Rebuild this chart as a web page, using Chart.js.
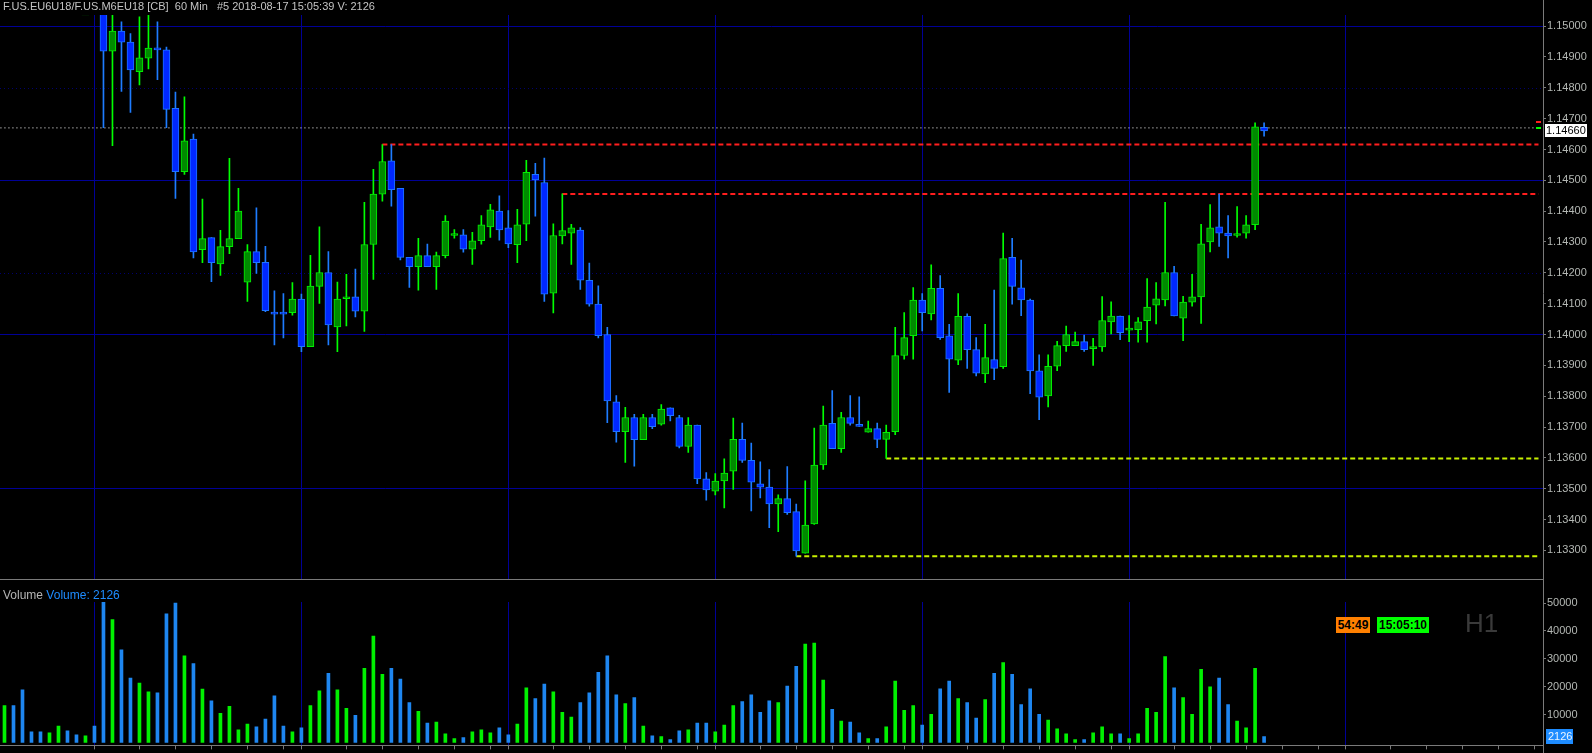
<!DOCTYPE html>
<html>
<head>
<meta charset="utf-8">
<script src="https://cdn.jsdelivr.net/npm/chart.js@4.4.0/dist/chart.umd.min.js"></script>
<style>
  html, body { margin: 0; padding: 0; background: #000; }
  body { width: 1592px; height: 753px; position: relative; overflow: hidden; font-family: 'Liberation Sans', Arial, sans-serif; }
  canvas { position: absolute; left: 0; }
  #priceCanvas { top: 0; }
  #volCanvas { top: 587px; }
  .txt { position: absolute; white-space: pre; }
  #header { left: 3px; top: 0; font-size: 11px; line-height: 13px; color: #c4c4c4; }
  #volTitle { left: 3px; top: 588px; font-size: 12px; line-height: 14px; color: #b4b4b4; }
  #volTitle span { color: #1e8cff; }
  .timer { top: 617px; height: 16px; line-height: 16px; font-size: 12px; font-weight: bold; color: #000; text-align: center; }
  #countdown { left: 1336px; width: 34px; background: #ff8000; }
  #clock { left: 1377px; width: 52px; background: #00ff00; }
  #period { left: 1465px; top: 610px; font-size: 26px; line-height: 26px; color: #3a3a3a; }
</style>
</head>
<body>
<canvas id="priceCanvas" width="1592" height="587"></canvas>
<canvas id="volCanvas" width="1592" height="166"></canvas>
<div id="header" class="txt">F.US.EU6U18/F.US.M6EU18 [CB]  60 Min   #5 2018-08-17 15:05:39 V: 2126</div>
<div id="volTitle" class="txt">Volume <span>Volume: 2126</span></div>
<div id="countdown" class="txt timer">54:49</div>
<div id="clock" class="txt timer">15:05:10</div>
<div id="period" class="txt">H1</div>
<script>
// 60 min bars, index 0 = first bar on screen, 140 = current bar
const dayStarts = [10, 33, 56, 79, 102, 125, 149];
const hourTicks = [0, 5, 9, 13, 17, 21];
const priceTicks = [1.133, 1.134, 1.135, 1.136, 1.137, 1.138, 1.139, 1.140, 1.141,
  1.142, 1.143, 1.144, 1.145, 1.146, 1.147, 1.148, 1.149, 1.150];
const volumeTicks = [10000, 20000, 30000, 40000, 50000];
const dottedLevels = [1.148, 1.142];

const opens = [
  1.15180, 1.15220, 1.15190, 1.15130, 1.15120, 1.15110, 1.15125, 1.15145, 1.15135, 1.15125,
  1.15130, 1.15090, 1.14919, 1.14984, 1.14948, 1.14852, 1.14896, 1.14929, 1.14923, 1.14733,
  1.14528, 1.14634, 1.14275, 1.14314, 1.14229, 1.14285, 1.14311, 1.14170, 1.14269, 1.14234,
  1.14071, 1.14070, 1.14071, 1.14115, 1.13961, 1.14156, 1.14201, 1.14025, 1.14116, 1.14122,
  1.14076, 1.14292, 1.14455, 1.14563, 1.14474, 1.14250, 1.14220, 1.14256, 1.14220, 1.14256,
  1.14321, 1.14323, 1.14277, 1.14304, 1.14349, 1.14400, 1.14346, 1.14291, 1.14358, 1.14519,
  1.14493, 1.14134, 1.14320, 1.14329, 1.14339, 1.14176, 1.14099, 1.14000, 1.13782, 1.13685,
  1.13731, 1.13659, 1.13731, 1.13709, 1.13762, 1.13731, 1.13637, 1.13706, 1.13532, 1.13492,
  1.13525, 1.13557, 1.13660, 1.13592, 1.13516, 1.13505, 1.13451, 1.13468, 1.13426, 1.13291,
  1.13386, 1.13577, 1.13712, 1.13630, 1.13731, 1.13704, 1.13683, 1.13695, 1.13660, 1.13685,
  1.13932, 1.13996, 1.14112, 1.14067, 1.14150, 1.13996, 1.13917, 1.14059, 1.13951, 1.13872,
  1.13919, 1.13896, 1.14250, 1.14151, 1.14112, 1.13882, 1.13801, 1.13897, 1.13964, 1.13964,
  1.13977, 1.13954, 1.13960, 1.14041, 1.14060, 1.14014, 1.14016, 1.14045, 1.14095, 1.14112,
  1.14201, 1.14053, 1.14105, 1.14122, 1.14300, 1.14349, 1.14329, 1.14321, 1.14329, 1.14356,
  1.14672
];
const highs = [
  1.15250, 1.15240, 1.15210, 1.15150, 1.15140, 1.15140, 1.15160, 1.15160, 1.15150, 1.15145,
  1.15140, 1.15110, 1.15060, 1.15014, 1.14976, 1.15030, 1.15050, 1.15014, 1.14932, 1.14786,
  1.14771, 1.14650, 1.14439, 1.14314, 1.14338, 1.14571, 1.14474, 1.14292, 1.14411, 1.14286,
  1.14142, 1.14133, 1.14168, 1.14131, 1.14257, 1.14349, 1.14269, 1.14170, 1.14195, 1.14212,
  1.14429, 1.14536, 1.14616, 1.14616, 1.14474, 1.14250, 1.14312, 1.14293, 1.14267, 1.14386,
  1.14340, 1.14340, 1.14331, 1.14386, 1.14422, 1.14450, 1.14402, 1.14406, 1.14565, 1.14555,
  1.14572, 1.14359, 1.14456, 1.14357, 1.14347, 1.14232, 1.14158, 1.14023, 1.13802, 1.13764,
  1.13741, 1.13741, 1.13741, 1.13773, 1.13762, 1.13738, 1.13731, 1.13706, 1.13552, 1.13549,
  1.13597, 1.13729, 1.13713, 1.13648, 1.13587, 1.13562, 1.13480, 1.13572, 1.13450, 1.13526,
  1.13697, 1.13768, 1.13818, 1.13748, 1.13802, 1.13798, 1.13719, 1.13713, 1.13706, 1.14023,
  1.14071, 1.14152, 1.14133, 1.14226, 1.14191, 1.14033, 1.14133, 1.14067, 1.13990, 1.14033,
  1.14144, 1.14329, 1.14312, 1.14241, 1.14115, 1.13934, 1.13934, 1.13978, 1.14027, 1.14008,
  1.13998, 1.13988, 1.14123, 1.14106, 1.14060, 1.14061, 1.14055, 1.14181, 1.14168, 1.14429,
  1.14221, 1.14124, 1.14195, 1.14357, 1.14421, 1.14455, 1.14386, 1.14415, 1.14386, 1.14686,
  1.14686
];
const lows = [
  1.15160, 1.15170, 1.15110, 1.15100, 1.15095, 1.15100, 1.15110, 1.15120, 1.15115, 1.15115,
  1.15060, 1.14671, 1.14612, 1.14788, 1.14720, 1.14809, 1.14861, 1.14826, 1.14671, 1.14441,
  1.14519, 1.14248, 1.14233, 1.14171, 1.14192, 1.14262, 1.14311, 1.14107, 1.14198, 1.14074,
  1.13966, 1.13989, 1.14063, 1.13944, 1.13961, 1.14101, 1.13966, 1.13944, 1.14028, 1.14057,
  1.14010, 1.14179, 1.14432, 1.14416, 1.14242, 1.14153, 1.14144, 1.14220, 1.14146, 1.14248,
  1.14312, 1.14267, 1.14227, 1.14293, 1.14315, 1.14306, 1.14282, 1.14233, 1.14304, 1.14384,
  1.14107, 1.14070, 1.14294, 1.14227, 1.14146, 1.14092, 1.13989, 1.13714, 1.13651, 1.13585,
  1.13573, 1.13659, 1.13695, 1.13706, 1.13720, 1.13632, 1.13618, 1.13516, 1.13463, 1.13480,
  1.13438, 1.13498, 1.13585, 1.13428, 1.13470, 1.13374, 1.13361, 1.13417, 1.13281, 1.13291,
  1.13384, 1.13563, 1.13630, 1.13618, 1.13706, 1.13702, 1.13683, 1.13633, 1.13598, 1.13675,
  1.13920, 1.13920, 1.14012, 1.14047, 1.13984, 1.13812, 1.13902, 1.13890, 1.13866, 1.13844,
  1.13854, 1.13890, 1.14098, 1.14061, 1.13808, 1.13724, 1.13765, 1.13883, 1.13945, 1.13964,
  1.13945, 1.13900, 1.13945, 1.14002, 1.13983, 1.13977, 1.13975, 1.13975, 1.14034, 1.14093,
  1.14060, 1.13980, 1.14092, 1.14036, 1.14268, 1.14286, 1.14248, 1.14316, 1.14312, 1.14340,
  1.14643
];
const closes = [
  1.15220, 1.15190, 1.15130, 1.15120, 1.15110, 1.15125, 1.15145, 1.15135, 1.15125, 1.15130,
  1.15090, 1.14919, 1.14984, 1.14948, 1.14858, 1.14897, 1.14929, 1.14923, 1.14730, 1.14528,
  1.14628, 1.14268, 1.14311, 1.14233, 1.14285, 1.14311, 1.14400, 1.14269, 1.14233, 1.14077,
  1.14066, 1.14066, 1.14115, 1.13961, 1.14157, 1.14201, 1.14031, 1.14115, 1.14122, 1.14076,
  1.14292, 1.14455, 1.14561, 1.14470, 1.14250, 1.14220, 1.14256, 1.14220, 1.14256, 1.14368,
  1.14323, 1.14277, 1.14304, 1.14356, 1.14404, 1.14339, 1.14294, 1.14356, 1.14526, 1.14501,
  1.14131, 1.14321, 1.14337, 1.14346, 1.14176, 1.14098, 1.13996, 1.13785, 1.13685, 1.13731,
  1.13659, 1.13731, 1.13701, 1.13758, 1.13737, 1.13637, 1.13706, 1.13532, 1.13496, 1.13525,
  1.13551, 1.13660, 1.13592, 1.13521, 1.13505, 1.13451, 1.13468, 1.13422, 1.13298, 1.13382,
  1.13577, 1.13706, 1.13630, 1.13731, 1.13712, 1.13702, 1.13695, 1.13660, 1.13683, 1.13932,
  1.13990, 1.14112, 1.14071, 1.14150, 1.13990, 1.13920, 1.14059, 1.13951, 1.13875, 1.13925,
  1.13890, 1.14246, 1.14156, 1.14112, 1.13882, 1.13797, 1.13897, 1.13964, 1.14000, 1.13977,
  1.13951, 1.13961, 1.14045, 1.14060, 1.14006, 1.14017, 1.14041, 1.14089, 1.14116, 1.14201,
  1.14060, 1.14105, 1.14122, 1.14294, 1.14346, 1.14329, 1.14320, 1.14323, 1.14356, 1.14673,
  1.14660
];
const volumes = [
  13270, 13270, 18870, 3820, 3820, 3470, 5920, 4170, 2770, 2420, 5920,
  50250, 44070, 33220, 23060, 21310, 18160, 17810, 46170, 50020, 31120,
  28290, 19190, 14960, 10470, 12920, 4520, 6610, 5570, 8370, 16770,
  5920, 3820, 5220, 13270, 18520, 24820, 18870, 12220, 9770, 26570,
  38120, 24470, 26570, 22720, 14320, 11170, 6970, 7320, 3120, 1370,
  1720, 3820, 4520, 3470, 5220, 2770, 6610, 19570, 15720, 20960,
  18160, 10810, 9070, 14320, 17810, 25170, 31120, 17110, 13970, 16070,
  5920, 2420, 2070, 1020, 4170, 4520, 6970, 6970, 3820, 6270,
  13270, 14670, 17110, 10810, 14960, 14320, 20260, 27270, 35320, 35650,
  22370, 11870, 7670, 7320, 3470, 1370, 1370, 5570, 22020, 11520,
  13270, 6270, 10120, 19220, 22020, 15720, 14320, 8720, 15370, 24820,
  28670, 24470, 13620, 19220, 10120, 8020, 4870, 3120, 1020, 1020,
  3470, 5570, 3120, 3120, 1370, 3120, 12220, 10810, 30770, 19570,
  16070, 10120, 26220, 19920, 23060, 13620, 7670, 5220, 26570, 2126
];

// horizontal levels (price) and the bar they start from
const redLevels = [1.14616, 1.14456];
const redStarts = [42, 62];
const yellowLevels = [1.13598, 1.13281];
const yellowStarts = [98, 88];
const lastPrice = 1.14660;
const lastTick = 1.14670;
const askMark = 1.14690;
const bidMark = 1.14668;

const NAVY = '#000096';
const AXIS = '#7a7a7a';
const LABEL = '#b4b8b4';
const up = i => closes[i] >= opens[i];

const xMin = -0.5, xMax = 171, levelEnd = 170.5;

function levelLine(price, start, color, dash, width) {
    return {
        type: 'line',
        data: [{ x: start, y: price }, { x: levelEnd, y: price }],
        borderColor: color,
        borderDash: dash,
        borderWidth: width,
        pointRadius: 0,
        fill: false,
        order: 5
    };
}

const wickData = opens.map((o, i) => ({ x: i, y: [lows[i], highs[i]] }));
const bodyData = opens.map((o, i) => ({ x: i, y: [o, closes[i]] }));

const frameLine = {
    id: 'frameLine',
    afterDraw(chart) {
        const c = chart.ctx;
        c.save();
        c.strokeStyle = AXIS;
        c.lineWidth = 1;
        c.beginPath();
        c.moveTo(chart.chartArea.right + 0.5, 0);
        c.lineTo(chart.chartArea.right + 0.5, chart.height);
        c.stroke();
        c.restore();
    }
};

const priceOverlay = {
    id: 'priceOverlay',
    beforeDatasetsDraw(chart) {
        const c = chart.ctx, ys = chart.scales.y, a = chart.chartArea;
        c.save();
        c.strokeStyle = '#00006e';
        c.setLineDash([1, 3]);
        dottedLevels.forEach(p => {
            const y = Math.round(ys.getPixelForValue(p)) + 0.5;
            c.beginPath(); c.moveTo(a.left, y); c.lineTo(a.right, y); c.stroke();
        });
        c.restore();
    },
    afterDraw(chart) {
        const c = chart.ctx, ys = chart.scales.y, a = chart.chartArea;
        const y = Math.round(ys.getPixelForValue(lastPrice));
        c.save();
        // bid / ask markers at the right edge
        c.fillStyle = '#ff1e1e';
        c.fillRect(a.right - 7, Math.round(ys.getPixelForValue(askMark)) - 1, 5, 2);
        c.fillStyle = '#00ff00';
        c.fillRect(a.right - 7, Math.round(ys.getPixelForValue(bidMark)) - 1, 5, 2);
        c.fillStyle = '#ffffff';
        c.fillRect(1545, y - 7, 42, 13);
        c.fillStyle = '#000';
        c.font = '11px "Liberation Sans"';
        c.textBaseline = 'middle';
        c.fillText(lastPrice.toFixed(5), 1546, y);
        c.restore();
    }
};

const volOverlay = {
    id: 'volOverlay',
    afterDraw(chart) {
        const c = chart.ctx, ys = chart.scales.y;
        const last = volumes[volumes.length - 1];
        const y = Math.round(ys.getPixelForValue(last));
        c.save();
        c.fillStyle = '#1e8cff';
        c.fillRect(1546, y - 8, 27, 15);
        c.fillStyle = '#eaf4ff';
        c.font = '11px "Liberation Sans"';
        c.textBaseline = 'middle';
        c.fillText(String(last), 1548, y);
        c.restore();
    }
};

// Price chart
new Chart(document.getElementById('priceCanvas'), {
    type: 'bar',
    data: {
        datasets: [
            levelLine(lastTick, -0.45, '#ffffff', [1, 3], 1),
            levelLine(redLevels[0], redStarts[0], '#ff1e1e', [5, 3], 2),
            levelLine(redLevels[1], redStarts[1], '#ff1e1e', [5, 3], 2),
            levelLine(yellowLevels[0], yellowStarts[0], '#c8f000', [5, 3], 2),
            levelLine(yellowLevels[1], yellowStarts[1], '#c8f000', [5, 3], 2),
            {
                label: 'wicks',
                data: wickData,
                grouped: false,
                barThickness: 1,
                backgroundColor: ctx => up(ctx.dataIndex) ? '#00ff00' : '#1e7cff',
                order: 1
            },
            {
                label: 'bodies',
                data: bodyData,
                grouped: false,
                barThickness: 7,
                minBarLength: 2,
                borderWidth: 1,
                borderSkipped: false,
                backgroundColor: ctx => up(ctx.dataIndex) ? '#008a00' : '#0028ff',
                borderColor: ctx => up(ctx.dataIndex) ? '#00f000' : '#1e74ff',
                order: 0
            }
        ]
    },
    options: {
        responsive: false,
        animation: false,
        events: [],
        layout: { padding: { top: 15, bottom: 1, left: 0, right: 0 } },
        plugins: { legend: { display: false }, tooltip: { enabled: false } },
        scales: {
            x: {
                type: 'linear',
                min: xMin,
                max: xMax,
                offset: false,
                afterBuildTicks: axis => { axis.ticks = dayStarts.map(v => ({ value: v })); },
                afterFit: axis => { axis.height = 0; },
                ticks: { display: false },
                grid: { color: NAVY, drawTicks: false, offset: false },
                border: { display: true, color: AXIS }
            },
            y: {
                position: 'right',
                min: 1.13206,
                max: 1.15036,
                afterBuildTicks: axis => { axis.ticks = priceTicks.map(v => ({ value: v })); },
                afterFit: axis => { axis.width = 49; },
                ticks: {
                    color: LABEL,
                    padding: 1,
                    font: { family: 'Liberation Sans', size: 11 },
                    callback: v => v.toFixed(5)
                },
                grid: {
                    color: ctx => (ctx.tick && Math.round(ctx.tick.value * 100000) % 500 === 0) ? NAVY : 'rgba(0,0,0,0)',
                    tickColor: AXIS,
                    tickLength: 3
                },
                border: { display: false }
            }
        }
    },
    plugins: [priceOverlay, frameLine]
});

// Volume chart
const volTickBars = [];
dayStarts.forEach(d => hourTicks.forEach(h => { if (d + h < xMax) volTickBars.push(d + h); }));

new Chart(document.getElementById('volCanvas'), {
    type: 'bar',
    data: {
        datasets: [{
            label: 'Volume',
            data: volumes.map((v, i) => ({ x: i, y: v })),
            grouped: false,
            barThickness: 3,
            backgroundColor: ctx => up(ctx.dataIndex) ? '#00f000' : '#1e86f0'
        }]
    },
    options: {
        responsive: false,
        animation: false,
        events: [],
        layout: { padding: { top: 15, bottom: 0, left: 0, right: 0 } },
        plugins: { legend: { display: false }, tooltip: { enabled: false } },
        scales: {
            x: {
                type: 'linear',
                min: xMin,
                max: xMax,
                offset: false,
                afterBuildTicks: axis => { axis.ticks = volTickBars.map(v => ({ value: v })); },
                afterFit: axis => { axis.height = 4; },
                ticks: { display: false },
                grid: {
                    color: ctx => (ctx.tick && dayStarts.includes(ctx.tick.value)) ? NAVY : 'rgba(0,0,0,0)',
                    tickColor: AXIS,
                    tickLength: 4,
                    offset: false
                },
                border: { display: true, color: AXIS }
            },
            y: {
                position: 'right',
                min: -1050,
                max: 50385,
                afterBuildTicks: axis => { axis.ticks = volumeTicks.map(v => ({ value: v })); },
                afterFit: axis => { axis.width = 49; },
                ticks: {
                    color: LABEL,
                    padding: 1,
                    font: { family: 'Liberation Sans', size: 11 },
                    callback: v => String(v)
                },
                grid: { drawOnChartArea: false, tickColor: AXIS, tickLength: 3 },
                border: { display: false }
            }
        }
    },
    plugins: [volOverlay, frameLine]
});
</script>
</body>
</html>
